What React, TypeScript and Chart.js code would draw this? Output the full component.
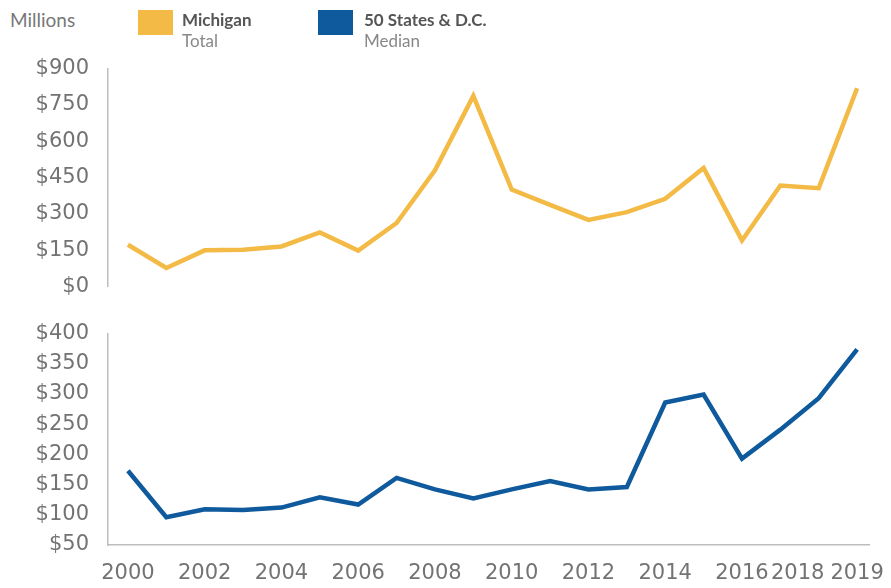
import React, { useEffect, useRef } from "react";
import { Chart, registerables } from "chart.js";

Chart.register(...registerables);

const years = [2000, 2001, 2002, 2003, 2004, 2005, 2006, 2007, 2008, 2009, 2010, 2011, 2012, 2013, 2014, 2015, 2016, 2017, 2018, 2019];
const michiganTotal = [172, 76, 149, 151, 165, 223, 148, 262, 480, 787, 400, 337, 275, 307, 362, 489, 190, 417, 406, 819];
const statesMedian = [173, 96, 109, 108, 112, 129, 117, 161, 142, 127, 142, 156, 142, 146, 286, 299, 193, 241, 293, 374];
const xTickLabels = [2000, 2002, 2004, 2006, 2008, 2010, 2012, 2014, 2016, 2018, 2019];
const topTicks = [0, 150, 300, 450, 600, 750, 900];
const bottomTicks = [50, 100, 150, 200, 250, 300, 350, 400];

const YELLOW = "#F3BA45";
const BLUE = "#0E5A9C";
const TICK_COLOR = "#737373";
const AXIS_COLOR = "#bdbdbd";
const FONT = "DejaVu Sans";
const LEGEND_FONT = "Lato";

function makeYScale(ticks: number[]) {
  return {
    type: "linear" as const,
    min: ticks[0],
    max: ticks[ticks.length - 1],
    afterBuildTicks: (s: any) => {
      s.ticks = ticks.map((v) => ({ value: v }));
    },
    afterFit: (s: any) => {
      s.width = 108;
    },
    grid: { display: false, drawTicks: false },
    border: { display: true, color: AXIS_COLOR, width: 1.5 },
    ticks: {
      color: TICK_COLOR,
      font: { family: FONT, size: 21 },
      padding: 19,
      callback: (v: any) => "$" + v,
    },
  };
}

function makeXScale(showBorder: boolean) {
  return {
    type: "linear" as const,
    min: 1999.48,
    max: 2019.31,
    grid: { display: false, drawTicks: false },
    border: { display: showBorder, color: AXIS_COLOR, width: 1.5 },
    ticks: { display: false },
  };
}

const xLabelPlugin = {
  id: "xLabels",
  afterDraw(chart: any) {
    const ctx = chart.ctx;
    const xs = chart.scales.x;
    const area = chart.chartArea;
    ctx.save();
    ctx.fillStyle = TICK_COLOR;
    ctx.font = `21px "${FONT}"`;
    ctx.textAlign = "center";
    ctx.textBaseline = "alphabetic";
    xTickLabels.forEach((yr) => {
      const shift = yr === 2018 ? -21 : 0;
      ctx.fillText(String(yr), xs.getPixelForValue(yr) + shift, area.bottom + 34);
    });
    ctx.restore();
  },
};

function LineChart(props: { values: number[]; color: string; ticks: number[]; bottom: boolean; height: number; padTop: number; padBottom: number }) {
  const ref = useRef<HTMLCanvasElement | null>(null);
  useEffect(() => {
    if (!ref.current) return;
    const chart = new Chart(ref.current, {
      type: "line",
      data: {
        datasets: [
          {
            data: years.map((y, i) => ({ x: y, y: props.values[i] })),
            borderColor: props.color,
            borderWidth: 4.5,
            pointRadius: 0,
            tension: 0,
            fill: false,
          },
        ],
      },
      options: {
        animation: false,
        responsive: false,
        maintainAspectRatio: false,
        layout: { padding: { top: props.padTop, bottom: props.padBottom, left: 0, right: 22 } },
        plugins: { legend: { display: false }, tooltip: { enabled: false } },
        scales: {
          x: makeXScale(props.bottom),
          y: makeYScale(props.ticks),
        },
      },
      plugins: props.bottom ? [xLabelPlugin] : [],
    });
    return () => chart.destroy();
  }, []);
  return <canvas ref={ref} width={891} height={props.height} style={{ display: "block" }} />;
}

export default function App() {
  const legendText: React.CSSProperties = { position: "absolute", fontFamily: LEGEND_FONT, fontSize: 17, lineHeight: "21px" };
  return (
    <div style={{ position: "relative", width: 891, height: 588, margin: -8, background: "#fff", overflow: "hidden" }}>
      <div style={{ position: "absolute", left: 0, top: 37 }}>
        <LineChart values={michiganTotal} color={YELLOW} ticks={topTicks} bottom={false} height={281} padTop={12} padBottom={15} />
      </div>
      <div style={{ position: "absolute", left: 0, top: 302 }}>
        <LineChart values={statesMedian} color={BLUE} ticks={bottomTicks} bottom={true} height={284} padTop={21} padBottom={41} />
      </div>
      <div style={{ ...legendText, left: 10, top: 8, fontSize: 19, lineHeight: "24px", color: "#777" }}>Millions</div>
      <div style={{ position: "absolute", left: 138, top: 10, width: 35, height: 25, background: YELLOW }} />
      <div style={{ ...legendText, left: 182, top: 9 }}>
        <div style={{ fontWeight: "bold", color: "#555" }}>Michigan</div>
        <div style={{ color: "#888" }}>Total</div>
      </div>
      <div style={{ position: "absolute", left: 318, top: 10, width: 35, height: 25, background: BLUE }} />
      <div style={{ ...legendText, left: 364, top: 9 }}>
        <div style={{ fontWeight: "bold", color: "#555" }}>50 States &amp; D.C.</div>
        <div style={{ color: "#888" }}>Median</div>
      </div>
    </div>
  );
}
